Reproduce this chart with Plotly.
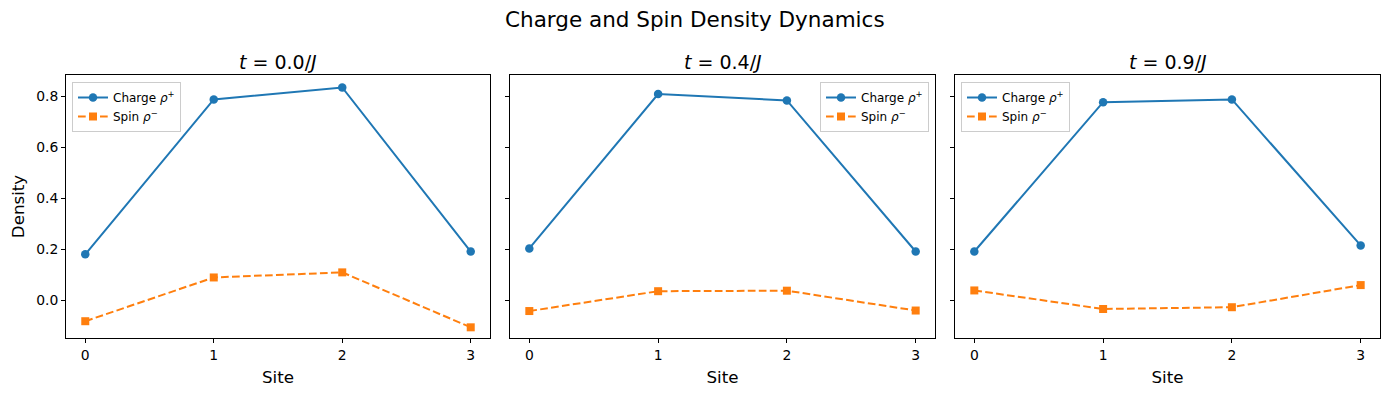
import plotly.graph_objects as go

sites = [0, 1, 2, 3]
times = ["0.0", "0.4", "0.9"]
charge_t0 = [0.180, 0.789, 0.836, 0.191]
spin_t0 = [-0.083, 0.089, 0.109, -0.107]
charge_t1 = [0.203, 0.810, 0.785, 0.191]
spin_t1 = [-0.043, 0.035, 0.037, -0.041]
charge_t2 = [0.191, 0.778, 0.789, 0.215]
spin_t2 = [0.038, -0.035, -0.028, 0.059]
y_ticks = [0.0, 0.2, 0.4, 0.6, 0.8]

charges = [charge_t0, charge_t1, charge_t2]
spins = [spin_t0, spin_t1, spin_t2]

OFF = 8  # page body margin
W, H = 1389 - OFF, 396 - OFF
FONT = "DejaVu Sans"
BLUE = "#1f77b4"
ORANGE = "#ff7f0e"


def px(x):
    return (x - OFF) / W


def py(y):
    return 1 - (y - OFF) / H


x_doms = [(px(66), px(490)), (px(510), px(935)), (px(955), px(1380))]
y_dom = (py(338), py(75))

fig = go.Figure()
legend_pos = [
    dict(x=px(72), xanchor="left"),
    dict(x=px(929), xanchor="right"),
    dict(x=px(961), xanchor="left"),
]

for i in range(3):
    suf = "" if i == 0 else str(i + 1)
    lg = "legend" + suf
    fig.add_trace(go.Scatter(
        x=sites, y=charges[i], mode="lines+markers",
        name="Charge <i>ρ</i><sup>+</sup>",
        line=dict(color=BLUE, width=2),
        marker=dict(symbol="circle", size=8.5, color=BLUE),
        xaxis="x" + suf, yaxis="y" + suf, legend=lg))
    fig.add_trace(go.Scatter(
        x=sites, y=spins[i], mode="lines+markers",
        name="Spin <i>ρ</i><sup>−</sup>",
        line=dict(color=ORANGE, width=2, dash="7.7px,3.3px"),
        marker=dict(symbol="square", size=8, color=ORANGE),
        xaxis="x" + suf, yaxis="y" + suf, legend=lg))

layout = dict(
    width=W, height=H,
    margin=dict(l=0, r=0, t=0, b=0),
    paper_bgcolor="white", plot_bgcolor="white",
    font=dict(family=FONT, size=13.9, color="black"),
    showlegend=True,
)

for i in range(3):
    suf = "" if i == 0 else str(i + 1)
    layout["xaxis" + suf] = dict(
        domain=list(x_doms[i]), anchor="y" + suf,
        range=[-0.15, 3.15], tickvals=sites, ticktext=[str(s) for s in sites],
        showgrid=False, zeroline=False, showline=True, mirror=True,
        linecolor="black", linewidth=1, ticks="outside", ticklen=4,
        tickcolor="black", tickfont=dict(size=13.9),
        title=dict(text="Site", font=dict(size=16.7), standoff=9),
    )
    yax = dict(
        domain=list(y_dom), anchor="x" + suf,
        range=[-0.149, 0.885], tickvals=y_ticks,
        ticktext=[f"{v:.1f}" for v in y_ticks],
        showgrid=False, zeroline=False, showline=True, mirror=True,
        linecolor="black", linewidth=1, ticks="outside", ticklen=4,
        tickcolor="black", tickfont=dict(size=13.9),
        showticklabels=(i == 0),
    )
    if i == 0:
        yax["title"] = dict(text="Density", font=dict(size=16.7), standoff=8)
    layout["yaxis" + suf] = yax
    layout["legend" + suf] = dict(
        **legend_pos[i], y=py(82), yanchor="top",
        bgcolor="rgba(255,255,255,0.8)", bordercolor="#cccccc", borderwidth=1,
        font=dict(size=12), itemwidth=30, tracegroupgap=0,
    )

fig.update_layout(**layout)

annotations = [dict(
    text="Charge and Spin Density Dynamics", x=px(694.5), y=py(19),
    xref="paper", yref="paper", showarrow=False, xanchor="center", yanchor="middle",
    font=dict(size=21.5))]
for i, t in enumerate(times):
    cx = (x_doms[i][0] + x_doms[i][1]) / 2
    annotations.append(dict(
        text=f"<i>t</i> = {t}/<i>J</i>", x=cx, y=py(62),
        xref="paper", yref="paper", showarrow=False, xanchor="center", yanchor="middle",
        font=dict(size=19)))
fig.update_layout(annotations=annotations)

fig.write_html("out.html")
